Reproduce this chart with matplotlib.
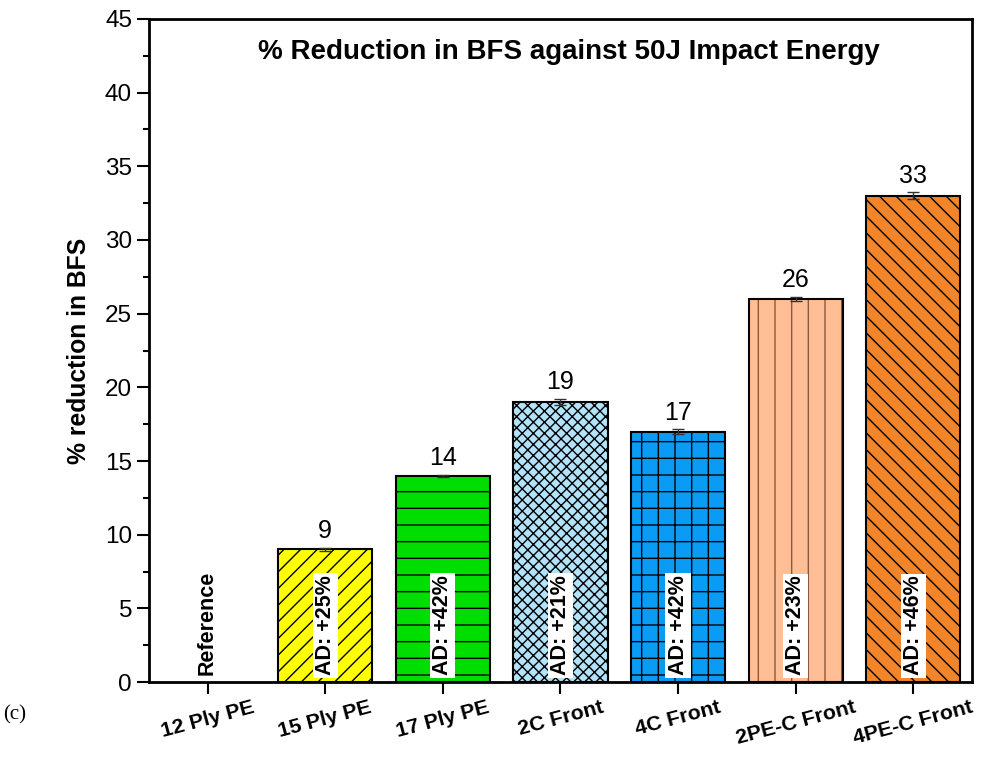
import matplotlib
matplotlib.use("Agg")
import matplotlib.pyplot as plt
from matplotlib.ticker import MultipleLocator

plt.rcParams['font.family'] = ['Liberation Sans', 'DejaVu Sans']
plt.rcParams['hatch.linewidth'] = 1.0

categories = ["12 Ply PE", "15 Ply PE", "17 Ply PE", "2C Front", "4C Front", "2PE-C Front", "4PE-C Front"]
values = [0, 9, 14, 19, 17, 26, 33]
errors = [0, 0.12, 0.06, 0.22, 0.15, 0.15, 0.25]
value_labels = ["", "9", "14", "19", "17", "26", "33"]
inner_labels = ["Reference", "AD: +25%", "AD: +42%", "AD: +21%", "AD: +42%", "AD: +23%", "AD: +46%"]
colors = ["#FFFFFF", "#FFFF00", "#00DD00", "#B3E3FA", "#0A9BF5", "#FFBE96", "#F2852A"]
hatches = ["", "//", "-", "xxx", "+", "|", "\\\\"]
hatch_colors = ["black", "black", "black", "black", "black", "#8A5A3A", "black"]

fig = plt.figure(figsize=(9.85, 7.59), dpi=100)
ax = fig.add_axes([0.151, 0.1014, 0.836, 0.8736])

x = list(range(len(categories)))
for i in x:
    if values[i] == 0:
        continue
    ax.bar(i, values[i], width=0.8, color=colors[i], hatch=hatches[i],
           edgecolor=hatch_colors[i], linewidth=0, zorder=2)
    ax.bar(i, values[i], width=0.8, color="none", edgecolor="black",
           linewidth=1.5, zorder=3)
    ax.errorbar(i, values[i], yerr=errors[i], fmt="none", ecolor="#333333",
                elinewidth=1.0, capsize=4.5, capthick=1.0, zorder=4)
    ax.text(i, values[i] + errors[i] + 0.3, value_labels[i], ha="center",
            va="bottom", fontsize=18, zorder=5)

for i in x:
    if values[i] == 0:
        ax.text(i, 0.45, inner_labels[i], rotation=90, ha="center", va="bottom",
                fontsize=15.5, fontweight="bold", zorder=5)
    else:
        ax.text(i, 0.45, inner_labels[i], rotation=90, ha="center", va="bottom",
                fontsize=15.5, fontweight="bold", zorder=5,
                bbox=dict(facecolor="white", edgecolor="none", pad=1.5))

ax.set_xlim(-0.5, 6.5)
ax.set_ylim(0, 45)
ax.set_xticks(x)
ax.set_xticklabels(categories, rotation=15, fontsize=15.3, fontweight="bold",
                   ha="center")
ax.yaxis.set_major_locator(MultipleLocator(5))
ax.yaxis.set_minor_locator(MultipleLocator(2.5))
ax.tick_params(axis="y", which="major", labelsize=17.5, length=8.5, width=1.5, direction="out")
ax.tick_params(axis="y", which="minor", length=4, width=1.5, direction="out")
ax.tick_params(axis="x", which="major", length=8.5, width=1.5, direction="out", pad=3)
for s in ax.spines.values():
    s.set_linewidth(2)

ax.set_ylabel("% reduction in BFS", fontsize=17.8, fontweight="bold", labelpad=10)
ax.text(0.51, 0.95, "% Reduction in BFS against 50J Impact Energy", transform=ax.transAxes,
        ha="center", va="center", fontsize=20, fontweight="bold")

fig.text(0.003, 0.058, "(c)", fontsize=15, family=["Liberation Serif", "DejaVu Serif"],
         ha="left", va="center")

fig.savefig("out.png", dpi=100)
